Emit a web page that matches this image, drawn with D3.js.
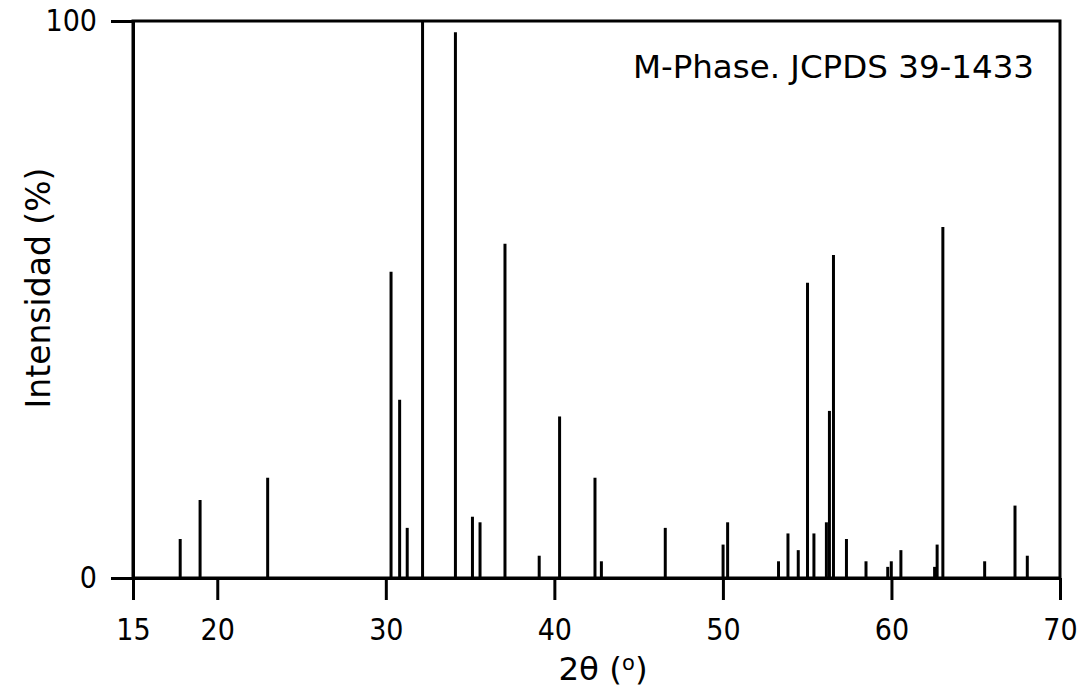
<!DOCTYPE html>
<html>
<head>
<meta charset="utf-8">
<script src="https://cdn.jsdelivr.net/npm/d3@7"></script>
<style>
  html, body { margin: 0; padding: 0; background: #fff; }
  svg { display: block; }
  text { fill: #000; }
</style>
</head>
<body>
<svg id="chart" width="1086" height="693"></svg>
<script>
// 2θ positions (degrees) of the reference lines
const twoTheta = [17.80, 18.98, 22.99, 30.31, 30.82, 31.27, 32.18, 34.13, 35.14, 35.59,
  37.07, 39.10, 40.31, 42.41, 42.79, 46.58, 50.01, 50.28, 53.30, 53.86,
  54.47, 55.02, 55.40, 56.14, 56.32, 56.56, 57.33, 58.49, 59.78, 59.99,
  60.56, 62.56, 62.71, 63.05, 65.53, 67.33, 68.06];
// relative intensities (%)
const intensity = [7, 14, 18, 55, 32, 9, 100, 98, 11, 10,
  60, 4, 29, 18, 3, 9, 6, 10, 3, 8,
  5, 53, 8, 10, 30, 58, 7, 3, 2, 3,
  5, 2, 6, 63, 3, 13, 4];
const xTicks = [15, 20, 30, 40, 50, 60, 70];
const yTicks = [0, 100];
const xDomain = [15, 70];
const yDomain = [0, 100];
const labelText = "M-Phase. JCPDS 39-1433";
const yTitle = "Intensidad (%)";

const mainFont = '"DejaVu Sans", sans-serif';
const tickFont = '"DejaVu Sans Condensed", "DejaVu Sans", sans-serif';

const svg = d3.select("#chart");
const m = { left: 133, right: 1060, top: 21, bottom: 578 };
const x = d3.scaleLinear().domain(xDomain).range([m.left, m.right]);
const y = d3.scaleLinear().domain(yDomain).range([m.bottom, m.top]);

// frame
svg.append("rect")
  .attr("x", x(xDomain[0])).attr("y", y(yDomain[1]))
  .attr("width", x(xDomain[1]) - x(xDomain[0]))
  .attr("height", y(yDomain[0]) - y(yDomain[1]))
  .attr("fill", "none").attr("stroke", "#000").attr("stroke-width", 3);

// peaks
svg.append("g").selectAll("line")
  .data(twoTheta.map((t, i) => ({ t, v: intensity[i] })))
  .join("line")
  .attr("x1", d => x(d.t)).attr("x2", d => x(d.t))
  .attr("y1", y(0)).attr("y2", d => y(d.v))
  .attr("stroke", "#000").attr("stroke-width", 3);

// axes
const gx = svg.append("g").attr("transform", `translate(0,${y(0)})`)
  .call(d3.axisBottom(x).tickValues(xTicks).tickFormat(d3.format("d"))
    .tickSizeInner(22).tickSizeOuter(0).tickPadding(19));
const gy = svg.append("g").attr("transform", `translate(${x(15)},0)`)
  .call(d3.axisLeft(y).tickValues(yTicks).tickFormat(d3.format("d"))
    .tickSizeInner(22).tickSizeOuter(0).tickPadding(14));
[gx, gy].forEach(g => {
  g.select(".domain").attr("stroke", "#000").attr("stroke-width", 3);
  g.selectAll(".tick line").attr("stroke", "#000").attr("stroke-width", 3);
  g.selectAll(".tick text")
    .style("font-family", tickFont).style("font-size", "30px").style("fill", "#000");
});

// annotation
svg.append("text")
  .attr("x", 1034).attr("y", 78)
  .attr("text-anchor", "end")
  .style("font-family", mainFont).style("font-size", "32.5px")
  .text(labelText);

// y title
svg.append("text")
  .attr("transform", `translate(50,288) rotate(-90)`)
  .attr("text-anchor", "middle")
  .style("font-family", mainFont).style("font-size", "33px")
  .text(yTitle);

// x title
const xt = svg.append("text")
  .attr("x", 603).attr("y", 680)
  .attr("text-anchor", "middle")
  .style("font-family", mainFont).style("font-size", "32.5px");
xt.append("tspan").text("2θ (");
xt.append("tspan").style("font-size", "21px").attr("dy", -10).text("o");
xt.append("tspan").attr("dy", 10).text(")");
</script>
</body>
</html>
